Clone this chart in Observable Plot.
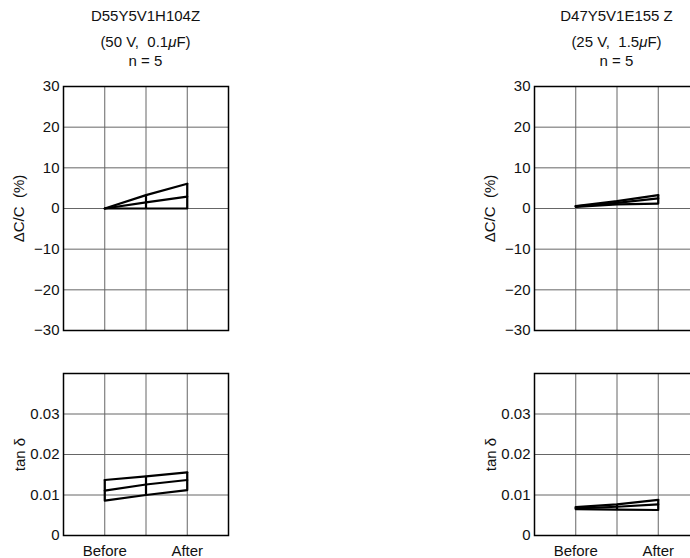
<!DOCTYPE html>
<html>
<head>
<meta charset="utf-8">
<script src="https://cdn.jsdelivr.net/npm/d3@7"></script>
<script src="https://cdn.jsdelivr.net/npm/@observablehq/plot@0.6"></script>
<style>
  html, body { margin: 0; padding: 0; background: #fff; }
  body { width: 690px; height: 558px; overflow: hidden; position: relative;
         font-family: "Liberation Sans", Arial, sans-serif; color: #111; }
  .title { position: absolute; width: 240px; text-align: center; font-size: 15px; white-space: pre; line-height: 1; }
  .panel { position: absolute; width: 240px; }
  .panel svg { max-width: none !important; }
</style>
</head>
<body>
<div id="root"></div>
<script>
// ---- data ----
const stages = [1, 2, 3];                 // measurement points
const stageLabels = ["Before", "", "After"];
const capTicks = [-30, -20, -10, 0, 10, 20, 30];
const tanTicks = [0, 0.01, 0.02, 0.03];

const titlesLeft = ["D55Y5V1H104Z", "(50 V,  0.1μF)", "n = 5"];
const titlesRight = ["D47Y5V1E155 Z", "(25 V,  1.5μF)", "n = 5"];

const capLeftMax = [0, 3.3, 6.1];
const capLeftAvg = [0, 1.5, 2.9];
const capLeftMin = [0, 0, 0];
const tanLeftMax = [0.0137, 0.0146, 0.0156];
const tanLeftAvg = [0.0111, 0.0126, 0.0137];
const tanLeftMin = [0.0086, 0.0100, 0.0112];

const capRightMax = [0.6, 1.8, 3.3];
const capRightAvg = [0.5, 1.4, 2.5];
const capRightMin = [0.4, 1.0, 1.2];
const tanRightMax = [0.0070, 0.0077, 0.0088];
const tanRightAvg = [0.0067, 0.0071, 0.0077];
const tanRightMin = [0.0065, 0.0064, 0.0063];

// ---- build ----
const root = document.getElementById("root");
const FONT = '"Liberation Sans", Arial, sans-serif';

function seriesRows(maxA, avgA, minA) {
  const rows = [];
  stages.forEach((s, i) => {
    rows.push({x: s, y: maxA[i], k: "max"});
    rows.push({x: s, y: avgA[i], k: "avg"});
    rows.push({x: s, y: minA[i], k: "min"});
  });
  return rows;
}
function rangeRows(maxA, minA) {
  return stages.map((s, i) => ({x: s, lo: minA[i], hi: maxA[i]}));
}

function makePlot({maxA, avgA, minA, domain, ticks, label, labelOffset, showX, height, marginTop, marginBottom, fmt}) {
  const xTicks = stages.filter((s, i) => stageLabels[i] !== "");
  return Plot.plot({
    width: 235,
    height,
    marginLeft: 63,
    marginRight: 7,
    marginTop,
    marginBottom,
    style: {fontSize: "15px", fontFamily: FONT, color: "#111", background: "transparent", overflow: "visible", maxWidth: "none"},
    x: {domain: [0, 4], ticks: showX ? xTicks : [], tickSize: 0, tickPadding: 10,
        tickFormat: d => stageLabels[stages.indexOf(d)] ?? "", label: null},
    y: {domain, ticks, tickSize: 0, tickPadding: 4, tickFormat: fmt,
        label, labelAnchor: "center", labelOffset, labelArrow: "none"},
    marks: [
      Plot.ruleY(ticks, {stroke: "#666", strokeWidth: 1}),
      Plot.ruleX(stages, {stroke: "#666", strokeWidth: 1}),
      Plot.line(seriesRows(maxA, avgA, minA), {x: "x", y: "y", z: "k", stroke: "#000", strokeWidth: 2.2}),
      Plot.ruleX(rangeRows(maxA, minA), {x: "x", y1: "lo", y2: "hi", stroke: "#000", strokeWidth: 2.2}),
      Plot.frame({stroke: "#000", strokeWidth: 1.5})
    ]
  });
}

function addPanel(offsetX, titles, cap, tan) {
  const centers = offsetX + 145.5;
  const tops = [8, 34, 53];
  titles.forEach((t, i) => {
    const d = document.createElement("div");
    d.className = "title";
    d.style.left = (centers - 120) + "px";
    d.style.top = tops[i] + "px";
    d.innerHTML = t.replace("μ", '<i>μ</i>');
    root.appendChild(d);
  });
  const top = makePlot({...cap, domain: [-30, 30], ticks: capTicks, label: "ΔC/C  (%)", labelOffset: 50, showX: false,
    height: 270, marginTop: 10, marginBottom: 16, fmt: d => d3.format("d")(d).replace("-", "−")});
  const w1 = document.createElement("div");
  w1.className = "panel"; w1.style.left = offsetX + "px"; w1.style.top = "76px";
  w1.appendChild(top); root.appendChild(w1);

  const bot = makePlot({...tan, domain: [0, 0.04], ticks: tanTicks, label: "tan δ", labelOffset: 49, showX: true,
    height: 198, marginTop: 13, marginBottom: 23, fmt: d => d === 0 ? "0" : d3.format(".2f")(d)});
  const w2 = document.createElement("div");
  w2.className = "panel"; w2.style.left = offsetX + "px"; w2.style.top = "360px";
  w2.appendChild(bot); root.appendChild(w2);
}

addPanel(0, titlesLeft,
  {maxA: capLeftMax, avgA: capLeftAvg, minA: capLeftMin},
  {maxA: tanLeftMax, avgA: tanLeftAvg, minA: tanLeftMin});
addPanel(471, titlesRight,
  {maxA: capRightMax, avgA: capRightAvg, minA: capRightMin},
  {maxA: tanRightMax, avgA: tanRightAvg, minA: tanRightMin});
</script>
</body>
</html>
